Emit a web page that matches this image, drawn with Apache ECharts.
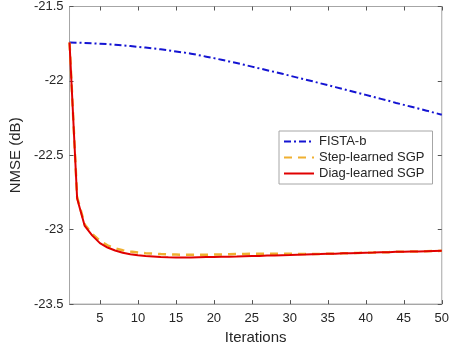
<!DOCTYPE html>
<html>
<head>
<meta charset="utf-8">
<script src="https://cdn.jsdelivr.net/npm/echarts@6/dist/echarts.min.js"></script>
<style>html,body{margin:0;padding:0;background:#fff;}#c{width:452px;height:350px;}</style>
</head>
<body>
<div id="c"></div>
<script>
var iterations = [1,2,3,4,5,6,7,8,9,10,11,12,13,14,15,16,17,18,19,20,21,22,23,24,25,26,27,28,29,30,31,32,33,34,35,36,37,38,39,40,41,42,43,44,45,46,47,48,49,50];
var fistaB = [-21.742,-21.743,-21.745,-21.747,-21.750,-21.753,-21.757,-21.761,-21.766,-21.771,
  -21.776,-21.782,-21.788,-21.795,-21.802,-21.809,-21.817,-21.827,-21.837,-21.847,
  -21.858,-21.869,-21.880,-21.892,-21.904,-21.916,-21.928,-21.940,-21.952,-21.965,
  -21.978,-21.991,-22.003,-22.016,-22.029,-22.042,-22.055,-22.068,-22.081,-22.094,
  -22.108,-22.121,-22.134,-22.148,-22.161,-22.174,-22.187,-22.200,-22.214,-22.227];
var stepSGP = [-21.742,-22.780,-22.965,-23.030,-23.075,-23.105,-23.125,-23.138,-23.147,-23.153,
  -23.158,-23.161,-23.164,-23.166,-23.167,-23.168,-23.168,-23.168,-23.168,-23.167,
  -23.166,-23.165,-23.164,-23.163,-23.162,-23.162,-23.161,-23.161,-23.161,-23.162,
  -23.163,-23.164,-23.164,-23.163,-23.162,-23.161,-23.159,-23.158,-23.156,-23.155,
  -23.154,-23.152,-23.151,-23.149,-23.148,-23.147,-23.146,-23.144,-23.143,-23.142];
var diagSGP = [-21.742,-22.790,-22.975,-23.040,-23.090,-23.120,-23.140,-23.155,-23.165,-23.172,
  -23.177,-23.180,-23.183,-23.185,-23.186,-23.186,-23.186,-23.185,-23.184,-23.183,
  -23.182,-23.181,-23.180,-23.178,-23.177,-23.176,-23.174,-23.173,-23.171,-23.170,
  -23.168,-23.167,-23.165,-23.164,-23.162,-23.161,-23.159,-23.158,-23.156,-23.155,
  -23.154,-23.152,-23.151,-23.149,-23.148,-23.147,-23.146,-23.144,-23.143,-23.142];
var xTicks = [5,10,15,20,25,30,35,40,45,50];
var yTicks = [-23.5,-23,-22.5,-22,-21.5];

function pairs(ys){ return iterations.map(function(x,i){ return [x, ys[i]]; }); }

var FONT = 'Liberation Sans, Arial, Helvetica, sans-serif';
var chart = echarts.init(document.getElementById('c'), null, {renderer:'canvas'});
chart.setOption({
  animation: false,
  backgroundColor: '#fff',
  grid: {left: 57, right: 8, top: 5, bottom: 40, show: true, borderColor: '#a6a6a6', borderWidth: 1, backgroundColor: 'transparent'},
  xAxis: [{
    type: 'value', min: 1, max: 50,
    name: 'Iterations', nameLocation: 'middle', nameGap: 25,
    nameTextStyle: {fontFamily: FONT, fontSize: 15, color: '#262626'},
    axisLine: {show: true, lineStyle: {color: '#a6a6a6'}},
    axisTick: {show: true, inside: true, length: 4, lineStyle: {color: '#555'}, customValues: xTicks},
    axisLabel: {fontFamily: FONT, fontSize: 13, color: '#262626', margin: 8, customValues: xTicks},
    splitLine: {show: false}
  },{
    type: 'value', min: 1, max: 50, position: 'top',
    axisLine: {show: false},
    axisTick: {show: true, inside: true, length: 4, lineStyle: {color: '#555'}, customValues: xTicks},
    axisLabel: {show: false},
    splitLine: {show: false}
  }],
  yAxis: [{
    type: 'value', min: -23.5, max: -21.5, interval: 0.5,
    name: 'NMSE (dB)', nameLocation: 'middle', nameGap: 36,
    nameTextStyle: {fontFamily: FONT, fontSize: 15, color: '#262626'},
    axisLine: {show: true, lineStyle: {color: '#a6a6a6'}},
    axisTick: {show: true, inside: true, length: 4, lineStyle: {color: '#555'}, customValues: yTicks},
    axisLabel: {fontFamily: FONT, fontSize: 13, color: '#262626', margin: 6, customValues: yTicks},
    splitLine: {show: false}
  },{
    type: 'value', min: -23.5, max: -21.5, interval: 0.5, position: 'right',
    axisLine: {show: false},
    axisTick: {show: true, inside: true, length: 4, lineStyle: {color: '#555'}, customValues: yTicks},
    axisLabel: {show: false},
    splitLine: {show: false}
  }],
  legend: {
    orient: 'vertical', left: 279, top: 131,
    itemWidth: 30, itemHeight: 10, itemGap: 3,
    backgroundColor: '#fff', borderColor: '#a6a6a6', borderWidth: 1, borderRadius: 0,
    padding: [4, 8, 4, 4],
    itemStyle: {opacity: 0},
    textStyle: {fontFamily: FONT, fontSize: 13, color: '#262626'},
    data: ['FISTA-b', 'Step-learned SGP', 'Diag-learned SGP']
  },
  series: [{
    name: 'FISTA-b', type: 'line', data: pairs(fistaB), showSymbol: false, symbol: 'none',
    lineStyle: {color: '#1414d2', width: 2, type: [7, 3, 2, 3]}, itemStyle: {color: '#1414d2'}
  },{
    name: 'Step-learned SGP', type: 'line', data: pairs(stepSGP), showSymbol: false, symbol: 'none',
    lineStyle: {color: '#f0b030', width: 2.5, type: [8, 6]}, itemStyle: {color: '#f0b030'}
  },{
    name: 'Diag-learned SGP', type: 'line', data: pairs(diagSGP), showSymbol: false, symbol: 'none',
    lineStyle: {color: '#e00000', width: 2}, itemStyle: {color: '#e00000'}
  }]
});
</script>
</body>
</html>
